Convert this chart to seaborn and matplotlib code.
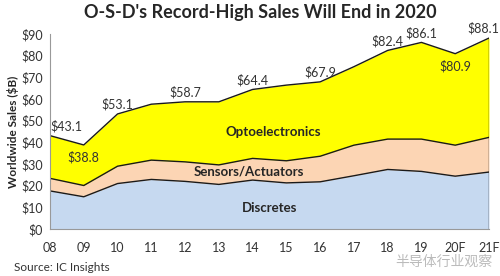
import numpy as np
import pandas as pd
import matplotlib.pyplot as plt
import seaborn as sns

# data
years = ["08", "09", "10", "11", "12", "13", "14", "15", "16", "17", "18", "19", "20F", "21F"]
discretes = [17.6, 14.9, 21.0, 22.9, 22.0, 20.6, 22.6, 21.3, 21.8, 24.6, 27.5, 26.6, 24.4, 26.3]
sensors = [5.8, 5.2, 8.0, 8.9, 9.0, 9.0, 10.0, 10.2, 11.8, 14.1, 14.0, 14.9, 14.3, 16.0]
totals = [43.1, 38.8, 53.1, 57.6, 58.7, 58.7, 64.4, 66.4, 67.9, 74.9, 82.4, 86.1, 80.9, 88.1]
shown_labels = {0: "above", 1: "below", 2: "above", 4: "above", 6: "above", 8: "above",
                10: "above", 11: "above", 12: "below", 13: "above"}

df = pd.DataFrame({"year": years, "Discretes": discretes, "Sensors": sensors, "Total": totals})
df["x"] = np.arange(len(years))
df["sens_top"] = df["Discretes"] + df["Sensors"]

sns.set_style("white")
plt.rcParams["font.family"] = ["Lato", "Noto Sans CJK SC", "DejaVu Sans"]

fig = plt.figure(figsize=(5, 2.76), dpi=100)
ax = fig.add_axes([0.1, 0.17, 0.878, 0.707])

# filled bands
ax.fill_between(df["x"], 0, df["Discretes"], color="#C6D9F0", lw=0)
ax.fill_between(df["x"], df["Discretes"], df["sens_top"], color="#FCD5B4", lw=0)
ax.fill_between(df["x"], df["sens_top"], df["Total"], color="#FFFF00", lw=0)

# boundary lines
for col in ["Discretes", "sens_top", "Total"]:
    sns.lineplot(data=df, x="x", y=col, ax=ax, color="#1a1a1a", lw=1.0)
ax.plot([13, 13], [0, totals[-1]], color="#1a1a1a", lw=1.0)

# total labels
for i, pos in shown_labels.items():
    x = i
    ha = "center"
    if i == 0:
        ha = "left"
    if i == len(years) - 1:
        x = i + 0.3
        ha = "right"
    if pos == "above":
        ax.text(x, totals[i] + 1.5, f"${totals[i]}", ha=ha, va="bottom", fontsize=9, color="#333333")
    else:
        ax.text(x, totals[i] - 3, f"${totals[i]}", ha=ha, va="top", fontsize=9, color="#333333")

ax.text(6.6, 45, "Optoelectronics", ha="center", va="center", fontsize=9.5, fontweight="bold")
ax.text(5.9, 26.5, "Sensors/Actuators", ha="center", va="center", fontsize=9.5, fontweight="bold")
ax.text(6.5, 9.5, "Discretes", ha="center", va="center", fontsize=9.5, fontweight="bold")

ax.set_xlim(0, 13)
ax.set_ylim(0, 90)
ax.set_yticks(range(0, 91, 10))
ax.set_yticklabels([f"${v}" for v in range(0, 91, 10)], fontsize=9, color="#333333")
ax.set_xticks(df["x"])
ax.set_xticklabels(years, fontsize=9, color="#333333")
ax.tick_params(axis="x", length=4, color="#999999", direction="out", pad=5)
ax.tick_params(axis="y", length=3, color="#999999", direction="out", pad=2)
for s in ["top", "right"]:
    ax.spines[s].set_visible(False)
for s in ["left", "bottom"]:
    ax.spines[s].set_color("#999999")
ax.set_xlabel("")
ax.set_ylabel("Worldwide Sales ($B)", fontsize=8.5, fontweight="bold", labelpad=2)

fig.text(0.52, 0.955, "O-S-D's Record-High Sales Will End in 2020", ha="center", va="center",
         fontsize=13, fontweight="bold")
fig.text(0.027, 0.03, "Source: IC Insights", ha="left", va="center", fontsize=8.5, color="#333333")
fig.text(0.888, 0.055, "半导体行业观察", ha="center", va="center", fontsize=10,
         color="#aaaaaa", alpha=0.8)

fig.savefig("out.png", dpi=100)
